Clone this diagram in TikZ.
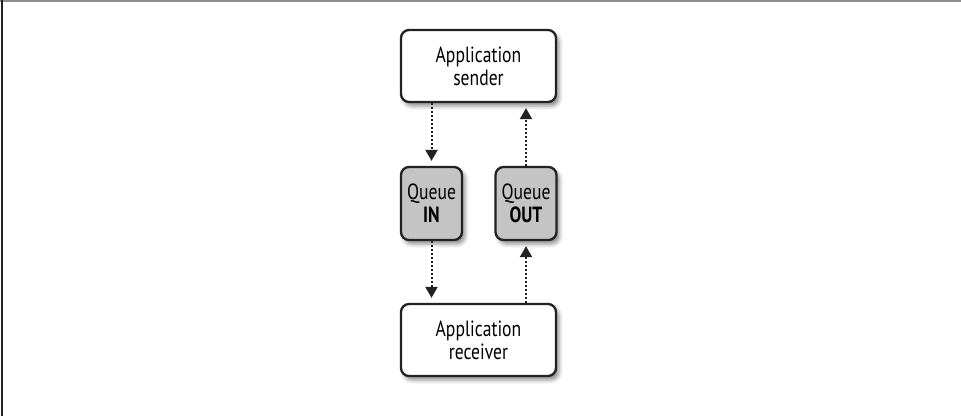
\documentclass[tikz,border=0pt]{standalone}
\usepackage{fontspec}
\setmainfont{PT Sans}[FakeStretch=0.8]
\usetikzlibrary{arrows.meta,shadows.blur}
\definecolor{edge}{HTML}{222222}
\definecolor{queuefill}{HTML}{C4C4C4}
\begin{document}
\begin{tikzpicture}[x=1pt,y=-1pt,
  box/.style={draw=edge, line width=2.3pt, rounded corners=8pt, fill=white,
    align=center, font=\fontsize{22}{23}\selectfont, inner sep=0pt,
    blur shadow={shadow xshift=3pt, shadow yshift=-4pt, shadow blur radius=4pt, shadow opacity=45}},
  appbox/.style={box, minimum width=155pt, minimum height=72pt},
  queuebox/.style={box, fill=queuefill, minimum width=61pt, minimum height=73pt},
  flow/.style={line width=2pt, draw=edge, dash pattern=on 2pt off 2pt,
    -{Triangle[width=12pt,length=11pt]}, shorten >=5pt}
]
\useasboundingbox (0,0) rectangle (961,416);
% frame
\draw[line width=2pt, draw=gray!90] (0,1) -- (961,1);
\draw[line width=2.4pt, draw=edge] (2,0) -- (2,416);

\node[appbox] (sender) at (478.5,66) {Application\\sender};
\node[appbox] (receiver) at (478.5,340) {Application\\receiver};
\node[queuebox] (qin) at (431.5,203.5) {Queue\\\textbf{IN}};
\node[queuebox] (qout) at (526,203.5) {Queue\\\textbf{OUT}};

\draw[flow] (sender.south -| qin) -- (qin.north);
\draw[flow] (qin.south) -- (receiver.north -| qin);
\draw[flow] (receiver.north -| qout) -- (qout.south);
\draw[flow] (qout.north) -- (sender.south -| qout);
\end{tikzpicture}
\end{document}
